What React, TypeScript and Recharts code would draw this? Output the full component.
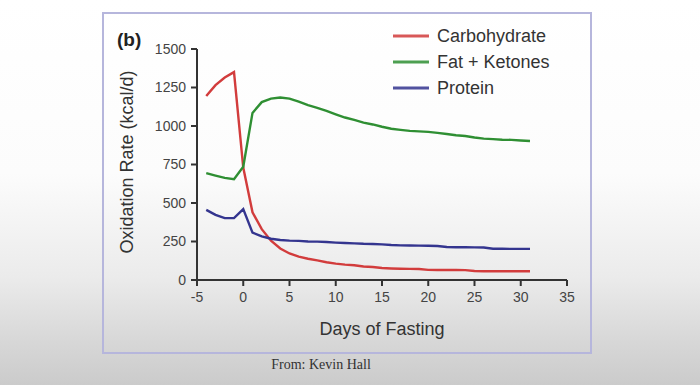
import { LineChart, Line, XAxis, YAxis } from "recharts"

const days = [-4, -3, -2, -1, 0, 1, 2, 3, 4, 5, 6, 7, 8, 9, 10, 11, 12, 13, 14, 15, 16, 17, 18, 19, 20, 21, 22, 23, 24, 25, 26, 27, 28, 29, 30, 31]

const carbohydrate = [1195, 1265, 1315, 1350, 730, 440, 330, 255, 205, 172, 152, 138, 127, 115, 106, 100, 96, 88, 84, 78, 75, 73, 72, 71, 66, 65, 65, 65, 64, 58, 57, 57, 57, 57, 57, 57]
const fatKetones = [694, 678, 663, 655, 735, 1085, 1155, 1178, 1185, 1178, 1158, 1135, 1118, 1098, 1076, 1055, 1040, 1022, 1010, 995, 982, 975, 968, 965, 962, 955, 948, 940, 935, 925, 918, 915, 911, 910, 906, 903]
const protein = [455, 423, 402, 402, 460, 308, 283, 268, 260, 256, 254, 250, 249, 247, 243, 240, 238, 235, 234, 231, 227, 225, 224, 223, 222, 221, 214, 213, 213, 212, 211, 203, 203, 202, 202, 202]

const xTicks = [-5, 0, 5, 10, 15, 20, 25, 30, 35]
const yTicks = [0, 250, 500, 750, 1000, 1250, 1500]

const series = [
  { key: "carb", name: "Carbohydrate", color: "#d23c3c" },
  { key: "fat", name: "Fat + Ketones", color: "#2f8f33" },
  { key: "protein", name: "Protein", color: "#34358f" },
]

const rows = days.map((day, i) => ({
  day,
  carb: carbohydrate[i],
  fat: fatKetones[i],
  protein: protein[i],
}))

const font = "'Liberation Sans', Arial, Helvetica, sans-serif"

function LegendBox() {
  return (
    <div style={{ position: "absolute", left: 393, top: 23, fontFamily: font, fontSize: 18, color: "#333" }}>
      {series.map((s) => (
        <div key={s.key} style={{ display: "flex", alignItems: "center", height: 26 }}>
          <svg width={36} height={4} style={{ marginRight: 8 }}>
            <line x1={0} y1={2} x2={36} y2={2} stroke={s.color} strokeWidth={3} opacity={0.85} />
          </svg>
          <span>{s.name}</span>
        </div>
      ))}
    </div>
  )
}

export default function App() {
  const axisLine = { stroke: "#333", strokeWidth: 2 }
  const tick = { fill: "#444", fontSize: 14, fontFamily: font }
  return (
    <div
      style={{
        position: "absolute",
        left: 0,
        top: 0,
        width: 700,
        height: 385,
        overflow: "hidden",
        background: "linear-gradient(to bottom, #ffffff 0%, #fcfcfc 45%, #ebebeb 72%, #d8d8d8 88%, #cbcbcb 100%)",
      }}
    >
      <div
        style={{
          position: "absolute",
          left: 102,
          top: 12,
          width: 486,
          height: 338,
          border: "2px solid #b6b6dc",
        }}
      />
      <div style={{ position: "absolute", left: 0, top: 0 }}>
        <LineChart width={700} height={385} data={rows} margin={{ top: 49, right: 133, bottom: 75, left: 137 }}>
          <XAxis
            dataKey="day"
            type="number"
            domain={[-5, 35]}
            ticks={xTicks}
            height={30}
            tickSize={6}
            tickMargin={6}
            axisLine={axisLine}
            tickLine={axisLine}
            tick={tick}
          />
          <YAxis
            domain={[0, 1500]}
            ticks={yTicks}
            width={60}
            tickSize={6}
            tickMargin={5}
            axisLine={axisLine}
            tickLine={axisLine}
            tick={tick}
          />
          {series.map((s) => (
            <Line
              key={s.key}
              dataKey={s.key}
              name={s.name}
              stroke={s.color}
              strokeWidth={2.4}
              dot={false}
              type="linear"
              isAnimationActive={false}
            />
          ))}
        </LineChart>
      </div>
      <LegendBox />
      <div style={{ position: "absolute", left: 117, top: 29, fontFamily: font, fontWeight: "bold", fontSize: 19, color: "#222" }}>
        (b)
      </div>
      <div
        style={{
          position: "absolute",
          left: 127,
          top: 162,
          transform: "translate(-50%, -50%) rotate(-90deg)",
          whiteSpace: "nowrap",
          fontFamily: font,
          fontSize: 18,
          color: "#333",
        }}
      >
        Oxidation Rate (kcal/d)
      </div>
      <div
        style={{
          position: "absolute",
          left: 382,
          top: 329,
          transform: "translate(-50%, -50%)",
          whiteSpace: "nowrap",
          fontFamily: font,
          fontSize: 18,
          color: "#333",
        }}
      >
        Days of Fasting
      </div>
      <div
        style={{
          position: "absolute",
          left: 321,
          top: 365,
          transform: "translate(-50%, -50%)",
          whiteSpace: "nowrap",
          fontFamily: "'Liberation Serif', 'Times New Roman', serif",
          fontSize: 14,
          color: "#333",
        }}
      >
        From: Kevin Hall
      </div>
    </div>
  )
}
